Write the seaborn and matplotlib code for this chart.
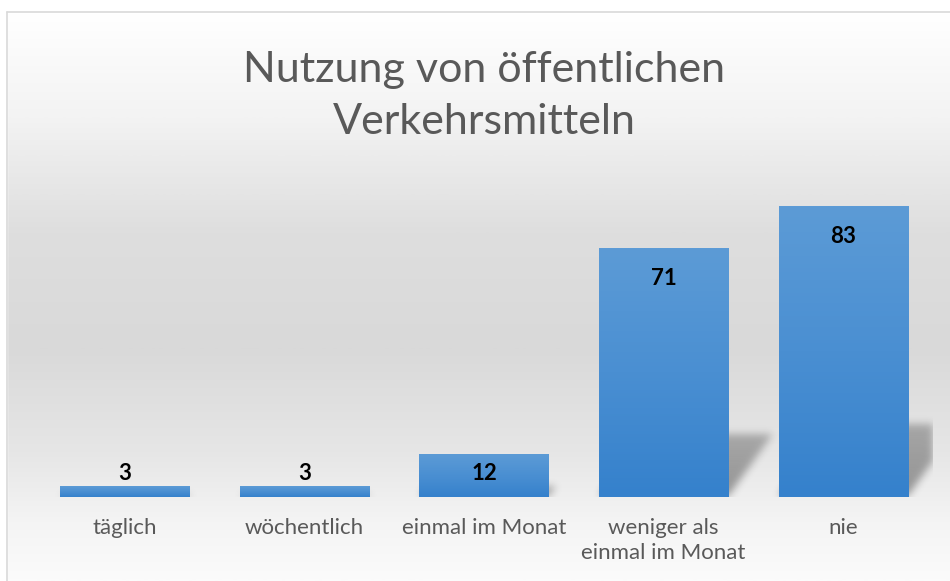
import numpy as np
import pandas as pd
import matplotlib
matplotlib.use('Agg')
import matplotlib.pyplot as plt
import seaborn as sns
from matplotlib.colors import LinearSegmentedColormap
from matplotlib.patches import Rectangle
from matplotlib.path import Path

# chart data
categories = ['täglich', 'wöchentlich', 'einmal im Monat', 'weniger als\neinmal im Monat', 'nie']
values = [3, 3, 12, 71, 83]
title = 'Nutzung von öffentlichen\nVerkehrsmitteln'

df = pd.DataFrame({'Kategorie': categories, 'Anzahl': values})

sns.set_theme(style='white')
plt.rcParams['font.family'] = ['Lato', 'DejaVu Sans']

fig = plt.figure(figsize=(9.5, 5.81), dpi=100)

# background gradient (white -> light grey -> white)
bg = fig.add_axes([0, 0, 1, 1], zorder=-10)
stops = [(0.0, '#ffffff'), (0.02, '#ffffff'), (0.2, '#f3f3f3'), (0.4, '#dedede'),
         (0.6, '#d9d9d9'), (0.78, '#e6e6e6'), (0.9, '#f4f4f4'), (1.0, '#fbfbfb')]
bg_cmap = LinearSegmentedColormap.from_list('bg', stops)
grad = np.linspace(0, 1, 400).reshape(-1, 1)
bg.imshow(grad, aspect='auto', cmap=bg_cmap, extent=[0, 1, 0, 1], origin='upper')
bg.set_xlim(0, 1)
bg.set_ylim(0, 1)
bg.axis('off')
# white strip above the frame and frame line
bg.add_patch(Rectangle((0, 1 - 11 / 581), 1, 11 / 581, color='white', zorder=2))
bg.add_patch(Rectangle((0, 0), 6.5 / 950, 1, color='white', zorder=2))
bg.plot([6.5 / 950, 1], [1 - 11.5 / 581] * 2, color='#d9d9d9', lw=1.2, zorder=3)
bg.plot([6.5 / 950] * 2, [0, 1 - 11.5 / 581], color='#d9d9d9', lw=1.2, zorder=3)

ax = fig.add_axes([35 / 950, 84 / 581, 898 / 950, 315.5 / 581])
ax.patch.set_alpha(0)
sns.barplot(data=df, x='Kategorie', y='Anzahl', color='#5b9bd5', width=0.72, ax=ax)

xlim = (-0.5, len(categories) - 0.5)
ylim = (0, 90)

# blurred perspective shadow, rendered on a pixel grid of the axes
nx, ny = 898, 316
gx = np.linspace(xlim[0], xlim[1], nx)
gy = np.linspace(ylim[0], ylim[1], ny)
GX, GY = np.meshgrid(gx, gy)
pts = np.column_stack([GX.ravel(), GY.ravel()])
mask = np.zeros(GX.shape)

bar_cmap = LinearSegmentedColormap.from_list('bar', ['#3581cc', '#4a8fd2', '#5c9bd6'])
for p in ax.patches:
    x0, w, h = p.get_x(), p.get_width(), p.get_height()
    x1 = x0 + w
    d = 0.0035 * h
    sh = 0.25 * h
    poly = Path([(x0, 0), (x1, 0), (x1 + d, sh), (x0 + d, sh), (x0, 0)])
    m = poly.contains_points(pts).reshape(GX.shape)
    # fade towards the top of the shadow
    fade = np.clip(1 - GY / max(sh, 1e-6) * 0.3, 0, 1)
    mask = np.maximum(mask, m * fade)
    # gradient fill of the bar
    ax.imshow(np.linspace(0, 1, 100).reshape(-1, 1), cmap=bar_cmap, aspect='auto',
              extent=[x0, x1, 0, h], origin='lower', zorder=3)
    p.set_visible(False)

sig = 4.0
k = np.arange(-12, 13)
kern = np.exp(-k ** 2 / (2 * sig ** 2))
kern /= kern.sum()
blur = np.apply_along_axis(lambda r: np.convolve(r, kern, mode='same'), 1, mask)
blur = np.apply_along_axis(lambda c: np.convolve(c, kern, mode='same'), 0, blur)
rgba = np.zeros((ny, nx, 4))
rgba[..., 3] = blur * 0.38
ax.imshow(rgba, extent=[xlim[0], xlim[1], ylim[0], ylim[1]], origin='lower',
          aspect='auto', zorder=1, interpolation='bilinear')

ax.set_ylim(*ylim)
ax.set_xlim(*xlim)

# value labels
for i, v in enumerate(values):
    y = max(v - 8.6, 6.6)
    ax.text(i, y, str(v), ha='center', va='center', fontsize=16, fontweight='bold',
            color='#000000', zorder=5)

ax.set_xlabel('')
ax.set_ylabel('')
ax.set_yticks([])
ax.tick_params(axis='x', length=0, pad=15, labelsize=16, labelcolor='#595959')
for lbl in ax.get_xticklabels():
    lbl.set_linespacing(1.3)
for s in ax.spines.values():
    s.set_visible(False)

fig.text(0.51, 0.835, title, ha='center', va='center', fontsize=31, color='#595959',
         linespacing=1.45)

fig.savefig('out.png', dpi=100)
